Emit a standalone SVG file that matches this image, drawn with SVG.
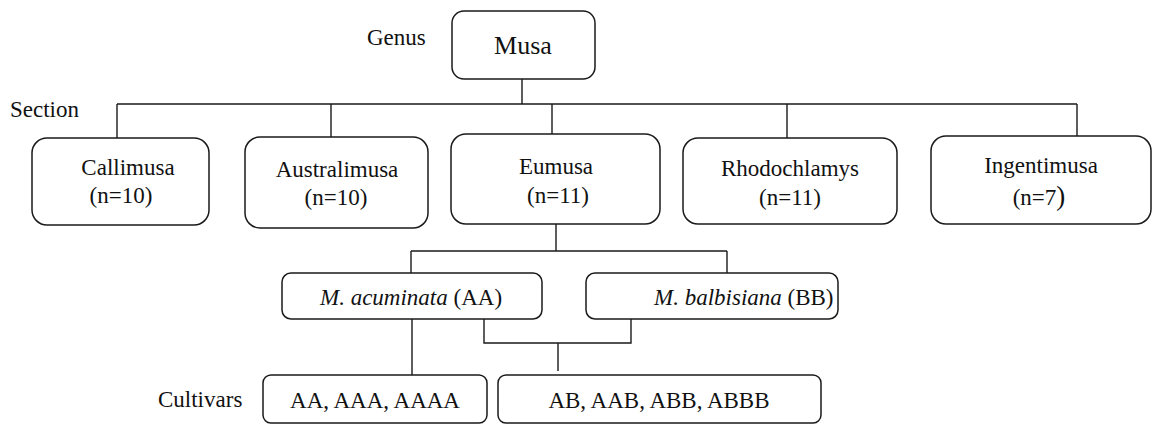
<svg xmlns="http://www.w3.org/2000/svg" width="1153" height="425" viewBox="0 0 1153 425" font-family="'Liberation Serif', 'Times New Roman', 'DejaVu Serif', serif">
<style>
text{font-family:'Liberation Serif','Times New Roman','DejaVu Serif',serif;font-size:23px;fill:#111}
.box{fill:#fff;stroke:#1a1a1a;stroke-width:1.5}
.ln{stroke:#1a1a1a;stroke-width:1.4;fill:none}
.c{text-anchor:middle}
.i{font-style:italic}
</style>
<rect width="1153" height="425" fill="#fff"/>
<text x="367" y="45">Genus</text>
<text x="10" y="117">Section</text>
<text x="158" y="407">Cultivars</text>
<g id="connectors">
<path class="ln" d="M522 79V104M117 104H1077M117 104V138M331 104V137M552 104V134M787 104V138M1077 104V136"/>
<path class="ln" d="M556 224V251M411 251H727M411 251V273M727 251V273"/>
<path class="ln" d="M412 319V375M484 319V343H631V319M558 343V371"/>
</g>
<g id="musa"><rect class="box" x="452" y="11" width="143" height="68" rx="12"/><text class="c" x="523" y="54" style="font-size:26px">Musa</text></g>
<g id="callimusa"><rect class="box" x="32" y="138" width="177" height="87" rx="15"/><text class="c" x="128" y="175">Callimusa</text><text class="c" x="121" y="203">(n=10)</text></g>
<g id="australimusa"><rect class="box" x="245" y="137" width="183" height="91" rx="15"/><text class="c" x="337" y="177">Australimusa</text><text class="c" x="336" y="205">(n=10)</text></g>
<g id="eumusa"><rect class="box" x="451" y="134" width="209" height="90" rx="15"/><text class="c" x="556" y="174">Eumusa</text><text class="c" x="558" y="203">(n=11)</text></g>
<g id="rhodochlamys"><rect class="box" x="683" y="138" width="214" height="86" rx="15"/><text class="c" x="790" y="176">Rhodochlamys</text><text class="c" x="790" y="205">(n=11)</text></g>
<g id="ingentimusa"><rect class="box" x="931" y="136" width="220" height="88" rx="15"/><text class="c" x="1041" y="173">Ingentimusa</text><text class="c" x="1039" y="205">(n=7<tspan style="font-size:27px">)</tspan></text></g>
<g id="acuminata"><rect class="box" x="282" y="273" width="260" height="46" rx="9"/><text x="320" y="305"><tspan class="i">M. acuminata</tspan>  (AA)</text></g>
<g id="balbisiana"><rect class="box" x="586" y="273" width="252" height="46" rx="9"/><text x="654" y="305"><tspan class="i">M. balbisiana</tspan> (BB)</text></g>
<g id="cultivars-aa"><rect class="box" x="263" y="375" width="224" height="48" rx="8"/><text class="c" x="375" y="408">AA, AAA, AAAA</text></g>
<g id="cultivars-ab"><rect class="box" x="498" y="375" width="323" height="48" rx="8"/><text class="c" x="659" y="408">AB, AAB, ABB, ABBB</text></g>
</svg>
